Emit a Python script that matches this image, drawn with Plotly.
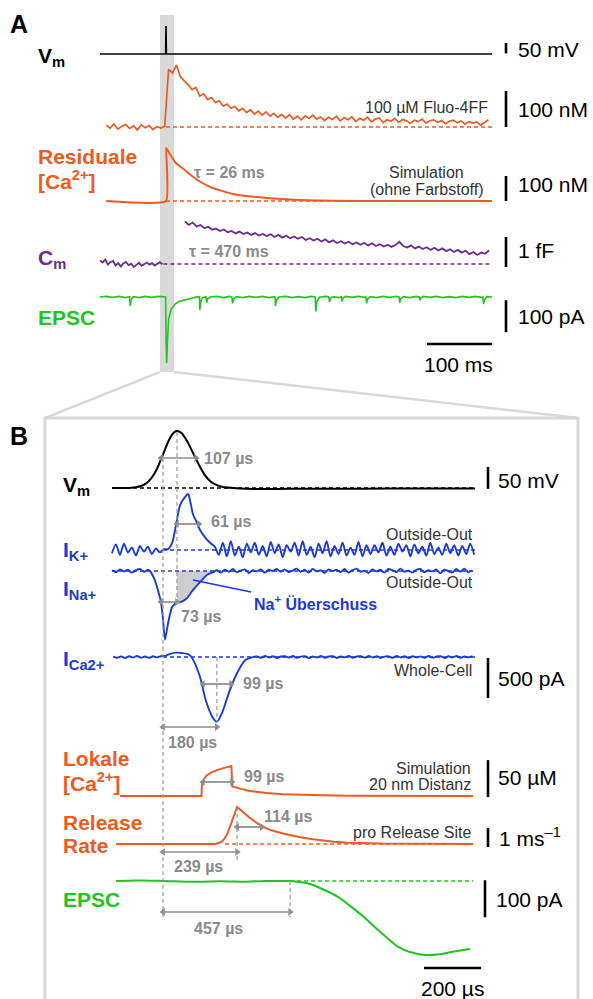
import numpy as np
import plotly.graph_objects as go

W, H = 593, 999

# ================= PANEL A  (time in ms, stimulus at t = 0) =================
VM_A = [(-101.5, 0), (-0.6, 0), (0, 140), (0.6, 0), (501.5, 0)]          # mV

FLUO_T0, FLUO_DT = -92, 6                                                # nM
FLUO = [5, -3, 8, -6, 2, 7, -4, 3, -8, 6, -2, 4, -7, 1, -3, 2,
        160, 150, 172, 140, 128, 118, 104, 110, 86, 92, 76, 82, 68, 73, 58, 64,
        52, 57, 45, 52, 40, 48, 36, 44, 33, 42, 30, 38, 27, 35, 25, 34, 22, 30,
        20, 31, 24, 33, 22, 28, 18, 27, 21, 30, 17, 26, 20, 28, 15, 24, 19, 27,
        14, 22, 25, 12, 20, 16, 24, 13, 21, 17, 10, 19, 15, 22, 11, 17, 20, 13,
        18, 9, 16, 19, 12, 17, 8, 15, 11, 14, 5, 12, 20]

RESID = [(-92, 0), (0, 0), (0.3, 212), (3, 200), (8, 180), (15, 152), (26, 130),
         (40, 100), (52, 78), (70, 54), (103, 28), (155, 12), (206, 4), (260, 1),
         (330, 0), (501.5, 0)]                                            # nM

CM_PRE_T0, CM_PRE_DT = -101.5, 4                                         # fF
CM_PRE = [0.12, 0.05, 0.15, -0.02, 0.06, 0.1, -0.05, 0.03, -0.08, 0.02, 0.07,
          -0.04, 0.01, -0.1, -0.03, 0.04, -0.06, 0.0, 0.05, -0.02, 0.03, -0.05,
          0.02, 0.06, -0.01]
CM_POST_T0, CM_POST_DT = 29, 6
CM_POST = [1.42, 1.30, 1.38, 1.25, 1.30, 1.20, 1.24, 1.14, 1.18, 1.10, 1.15, 1.06,
           1.10, 1.02, 1.08, 1.00, 1.05, 0.97, 1.03, 0.95, 1.00, 0.93, 0.99, 0.90,
           0.97, 0.88, 0.94, 0.86, 0.92, 0.84, 0.90, 0.80, 0.86, 0.78, 0.84, 0.75,
           0.82, 0.72, 0.79, 0.70, 0.76, 0.68, 0.74, 0.66, 0.72, 0.64, 0.70, 0.62,
           0.69, 0.60, 0.66, 0.58, 0.64, 0.57, 0.63, 0.74, 0.60, 0.55, 0.62, 0.52,
           0.58, 0.50, 0.56, 0.47, 0.54, 0.45, 0.52, 0.43, 0.49, 0.40, 0.47, 0.38,
           0.44, 0.33, 0.40, 0.30, 0.38, 0.34, 0.45]

EPSC_A = [(-102, 0), (-92, 2), (-82, -1), (-72, 2), (-62, -2), (-56, 1), (-55, -28),
          (-53.5, -8), (-50, 1), (-42, -2), (-32, 2), (-22, -1), (-12, 2), (-4, -1),
          (-0.6, 0), (0, -120), (1, -206), (2, -150), (4, -70), (8, -38), (14, -22),
          (20, -14), (30, -8), (40, -4), (49, 1), (51.5, 0), (52, -40), (53.5, -15),
          (56, -2), (61.5, 1), (62.5, -18), (64, -6), (68, 0), (78, 2), (88, -2),
          (98, 2), (101.5, 0), (102.5, -20), (104, -7), (108, 1), (118, -2), (128, 2),
          (138, -1), (148, 2), (158, -2), (167.5, 1), (168.5, -28), (170, -10),
          (174, 0), (184, 2), (194, -2), (204, 1), (214, -2), (224, 2), (229.5, 0),
          (230.5, -45), (232, -15), (236, -1), (246, 2), (250.5, 0), (251.5, -16),
          (253, -5), (257, 1), (266, -2), (269.5, 1), (270.5, -14), (272, -4),
          (276, 2), (286, -1), (296, 2), (306, -1), (307.5, 1), (308.5, -20),
          (310, -7), (314, 1), (324, -2), (334, 2), (344, -1), (354, 2), (358.5, 0),
          (359.5, -18), (361, -6), (365, 1), (375, -2), (385, 2), (389.5, 0),
          (390.5, -10), (392, -3), (396, 2), (406, -1), (416, 2), (426, -2), (436, 1),
          (446, -2), (456, 2), (466, -1), (476, 2), (486, -1), (487.5, 0),
          (488.5, -22), (490, -8), (494, 1), (501.5, 0)]                  # pA

# ================= PANEL B  (time in µs) =================
VM_B = [(-179, 0), (-150, 0), (-130, 0.2), (-110, 0.8), (-95, 2), (-80, 4), (-60, 10),
        (-40, 23), (-20, 45), (0, 76), (20, 108), (35, 124), (49, 130), (65, 125),
        (85, 106), (105, 80), (125, 54), (145, 31), (165, 16), (185, 7.5),
        (210, 2.4), (240, 0.3), (270, -1.2), (320, -2), (400, -2), (500, -1.8),
        (700, -1.5), (900, -1.2), (1095, -1)]                              # mV

IK_PRE_T0, IK_DT = -179, 14                                              # pA
IK_PRE = [-40, 70, -60, 80, -30, 30, -70, 50, -20, 40, -50, 20, -30, 10]
IK_MID = [(17, 10), (32, 90), (45, 300), (60, 560), (77, 660), (88, 700), (95, 620),
          (105, 450), (119, 340), (130, 250), (147, 160), (165, 90), (182, 40)]
IK_POST_T0 = 196
IK_POST = [-60, 90, -80, 110, -70, 40, -90, 80, -30, 90, -60, 50, -80, 100, -40, 70,
           -90, 60, -20, 90, -70, 110, -60, 40, -90, 80, -40, 110, -80, 50, -50, 90,
           -70, 30, -60, 100, -80, 60, -50, 60, -30, 90, -70, 40, -60, 80, -20, 60,
           -80, 70, -40, 40, -70, 90, -50, 30, -60, 80, -40, 60, -70, 50, -50, 80, -60]

INA_PRE_T0, INA_DT = -179, 14                                            # pA
INA_PRE = [10, -15, 20, -5, 15, -20, 10, 25, -10, 15]
INA_MID = [(-46, 0), (-28, -120), (-18, -240), (-7, -390), (0, -600), (7, -860),
           (18, -650), (32, -450), (49, -390), (60, -390), (84, -340), (105, -240),
           (130, -140), (154, -50), (175, -15)]
INA_POST_T0 = 189
INA_POST = [10, -20, 15, -10, 25, -15, 5, 20, -25, 10, -5, 20, -20, 15, 0, 25, -10,
            20, -15, 5, 30, -10, 15, -20, 25, -5, 10, -25, 20, 0, 15, -15, 25, -20,
            10, 30, -10, 5, -25, 20, -5, 15, -20, 25, 10, -15, 30, -10, 5, -20, 15,
            25, -15, 10, -5, 20, -30, 15, 0, -20, 25, -10, 30, -15, 10]
NA_EXCESS = (49, 175)                                                    # µs window

ICA_PRE_T0, ICA_DT = -175, 14                                            # pA
ICA_PRE = [5, -10, 8, -12, 10, -6, 12, -8, 6, -10, 9, -5, 10, 15]
ICA_MID = [(25, 40), (45, 55), (65, 50), (85, 40), (95, 20), (105, -30), (130, -250),
           (150, -540), (175, -760), (189, -810), (207, -700), (235, -410),
           (260, -200), (288, -40), (316, 0)]
ICA_POST_T0 = 330
ICA_POST = [8, -10, 12, -6, 10, -12, 6, 9, -8, 12, -10, 5, 10, -12, 8, -6, 12, -9, 6,
            10, -12, 8, -5, 12, -10, 6, 9, -8, 12, -6, 10, -12, 5, 8, -10, 12, -6, 9,
            -12, 10, -5, 8, -10, 12, -8, 6, 10, -12, 9, -6, 12, -10, 8, -5, 10]

LOKAL = [(-151, 0), (135, 0), (137, 19), (154, 28), (170, 32), (189, 35), (215, 38),
         (240, 40.5), (243, 13), (255, 11.5), (270, 10), (300, 7), (365, 4),
         (420, 2.5), (480, 1.5), (560, 1), (650, 0.5), (800, 0), (1088, 0)]   # µM

RELEASE = [(-165, 0), (150, 0), (182, 0), (200, 0.08), (211, 0.2), (225, 0.5),
           (235, 0.9), (246, 1.4), (260, 1.95), (280, 1.7), (305, 1.37), (330, 1.1),
           (351, 0.9), (380, 0.72), (421, 0.55), (481, 0.36), (526, 0.25),
           (600, 0.12), (646, 0.07), (761, 0.02), (900, 0), (1088, 0)]       # 1/ms

EPSC_B = [(-165, 0), (-120, 1), (-80, 1.5), (-40, 1), (0, 0), (40, -1), (80, -2),
          (120, -2), (160, -1.5), (200, -1), (240, -1.5), (280, -2), (320, -1),
          (360, 0), (400, 0), (446, 0), (516, -8), (551, -19), (614, -43),
          (674, -78), (709, -100), (747, -127), (825, -178), (867, -192),
          (919, -200), (970, -198), (1011, -192), (1077, -184)]              # pA

# interval arrows in panel B: (start µs, end µs, pixel row)
INTERVALS = [(-7, 116, 458), (49, 126, 524), (-7, 49, 602), (140, 239, 684),
             (0, 189, 727), (140, 242, 782), (260, 347, 827), (0, 260, 852),
             (0, 446, 912)]

# ================= layout geometry =================
XA = (166, 0.65)     # pixel of t=0, px per ms
XB = (163, 0.285)    # pixel of t=0, px per µs
YAX = {               # baseline pixel, px per unit
    'vmA': (54, 0.2), 'fluo': (127, 0.36), 'res': (201, 0.25), 'cm': (264, 30.0),
    'epscA': (297, 0.32), 'vmB': (488, 0.44), 'ik': (550, 0.08), 'ina': (571, 0.08),
    'ica': (657, 0.08), 'lok': (796, 0.74), 'rel': (844, 19.0), 'epscB': (881, 0.37),
    'ann': (H, float(H)),
}
names = list(YAX)
yid = {n: ('y' if i == 0 else f'y{i+1}') for i, n in enumerate(names)}

ORANGE = '#EE5A24'
PURPLE = '#6A2C8E'
GREEN = '#22C422'
BLUE = '#1C3BD4'
GTXT = '#8A8A8A'
DGRAY = '#9A9A9A'
FRAME = '#D8D8D8'
FONT = 'Liberation Sans, Arial, sans-serif'

def P(py):
    return 1 - py / H

def PX(px):
    return px / W

def tA(px):
    return (px - XA[0]) / XA[1]

def tB(px):
    return (px - XB[0]) / XB[1]

def grid(t0, dt, vals):
    return list(t0 + dt * np.arange(len(vals))), list(vals)

def pairs(pp):
    return [p[0] for p in pp], [p[1] for p in pp]

fig = go.Figure()

def add(xax, yname, t, v, color, width, dash=None, shape='linear', smooth=None):
    line = dict(color=color, width=width, shape=shape)
    if dash:
        line['dash'] = dash
    if smooth is not None:
        line['smoothing'] = smooth
    fig.add_trace(go.Scatter(x=t, y=v, mode='lines', line=line, xaxis=xax,
                             yaxis=yid[yname], hoverinfo='skip', showlegend=False))

DASH = '4px,3px'

# ---- Panel A traces ----
add('x', 'fluo', [0, 501.5], [0, 0], ORANGE, 1.3, DASH)
add('x', 'res', [0, 501.5], [0, 0], ORANGE, 1.3, DASH)
add('x', 'cm', [-4, 501.5], [0, 0], PURPLE, 1.3, DASH)
add('x', 'vmA', *pairs(VM_A), 'black', 1.6)
add('x', 'fluo', *grid(FLUO_T0, FLUO_DT, FLUO), ORANGE, 1.7)
add('x', 'res', *pairs(RESID), ORANGE, 2.0, shape='spline', smooth=0.4)
add('x', 'cm', *grid(CM_PRE_T0, CM_PRE_DT, CM_PRE), PURPLE, 1.8)
add('x', 'cm', *grid(CM_POST_T0, CM_POST_DT, CM_POST), PURPLE, 1.8)
add('x', 'epscA', *pairs(EPSC_A), GREEN, 1.6)

# ---- Panel B traces ----
xb0, xb1 = tB(112), tB(475)
add('x2', 'vmB', [xb0, xb1], [0, 0], 'black', 1.3, DASH)
add('x2', 'ik', [0, xb1], [0, 0], BLUE, 1.3, DASH)
add('x2', 'ica', [0, xb1], [0, 0], BLUE, 1.3, DASH)
add('x2', 'rel', [218, 1088], [0, 0], ORANGE, 1.3, DASH)
add('x2', 'epscB', [446, 1088], [0, 0], GREEN, 1.3, DASH)

add('x2', 'vmB', *pairs(VM_B), 'black', 2.0, shape='spline', smooth=0.5)

ik_t = grid(IK_PRE_T0, IK_DT, IK_PRE)[0] + pairs(IK_MID)[0] + grid(IK_POST_T0, IK_DT, IK_POST)[0]
ik_v = IK_PRE + pairs(IK_MID)[1] + IK_POST
add('x2', 'ik', ik_t, ik_v, BLUE, 1.9, shape='spline', smooth=0.8)

ina_t = grid(INA_PRE_T0, INA_DT, INA_PRE)[0] + pairs(INA_MID)[0] + grid(INA_POST_T0, INA_DT, INA_POST)[0]
ina_v = INA_PRE + pairs(INA_MID)[1] + INA_POST
# Na+ excess shading (area between trace and baseline in the window)
sel = [(t, v) for t, v in zip(ina_t, ina_v) if NA_EXCESS[0] <= t <= NA_EXCESS[1]]
ft = [s[0] for s in sel] + [NA_EXCESS[1], NA_EXCESS[0]]
fv = [s[1] for s in sel] + [0, 0]
fig.add_trace(go.Scatter(x=ft, y=fv, mode='lines', fill='toself', fillcolor='#CDCDCD',
                         line=dict(width=0), xaxis='x2', yaxis=yid['ina'],
                         hoverinfo='skip', showlegend=False))
add('x2', 'ina', [xb0, xb1], [0, 0], BLUE, 1.3, DASH)
add('x2', 'ina', ina_t, ina_v, BLUE, 1.9, shape='spline', smooth=0.6)

ica_t = grid(ICA_PRE_T0, ICA_DT, ICA_PRE)[0] + pairs(ICA_MID)[0] + grid(ICA_POST_T0, ICA_DT, ICA_POST)[0]
ica_v = ICA_PRE + pairs(ICA_MID)[1] + ICA_POST
add('x2', 'ica', ica_t, ica_v, BLUE, 1.9, shape='spline', smooth=0.8)

add('x2', 'lok', *pairs(LOKAL), ORANGE, 2.0)
add('x2', 'rel', *pairs(RELEASE), ORANGE, 2.0)
add('x2', 'epscB', *pairs(EPSC_B), GREEN, 2.0, shape='spline', smooth=0.6)

# interval arrows (double-headed)
for t0, t1, py in INTERVALS:
    fig.add_trace(go.Scatter(x=[t0, t1], y=[P(py), P(py)], mode='lines+markers',
                             line=dict(color='#8C8C8C', width=1.7),
                             marker=dict(symbol=['triangle-left', 'triangle-right'], size=7,
                                         color='#8C8C8C', line=dict(width=0)),
                             xaxis='x2', yaxis=yid['ann'], hoverinfo='skip', showlegend=False))

# ================= axes =================
lay = dict(width=W, height=H, margin=dict(l=0, r=0, t=0, b=0, pad=0),
           paper_bgcolor='white', plot_bgcolor='rgba(0,0,0,0)', showlegend=False,
           font=dict(family=FONT))
ax_common = dict(visible=False, showgrid=False, zeroline=False, fixedrange=True)
lay['xaxis'] = dict(ax_common, domain=[0, 1], range=[tA(0), tA(W)])
lay['xaxis2'] = dict(ax_common, domain=[0, 1], range=[tB(0), tB(W)], overlaying='x')
for i, n in enumerate(names):
    yb, k = YAX[n]
    d = dict(ax_common, domain=[0, 1], range=[(yb - H) / k, yb / k])
    if i > 0:
        d['overlaying'] = 'y'
    lay['yaxis' if i == 0 else f'yaxis{i+1}'] = d
fig.update_layout(**lay)

# ================= shapes =================
shapes = []
shapes.append(dict(type='rect', xref='x', yref='paper', x0=tA(160), x1=tA(174),
                   y0=P(372), y1=P(15), fillcolor='#D9D9D9', line=dict(width=0), layer='below'))
for a, b in [((160, 372), (45, 418)), ((174, 372), (578, 418))]:
    shapes.append(dict(type='line', xref='paper', yref='paper', x0=PX(a[0]), y0=P(a[1]),
                       x1=PX(b[0]), y1=P(b[1]), line=dict(color=FRAME, width=2.5)))
shapes.append(dict(type='rect', xref='paper', yref='paper', x0=PX(45), x1=PX(578),
                   y0=P(1010), y1=P(418), line=dict(color=FRAME, width=3), layer='below'))

def vbar(xref, x, yname, v0, v1, w=2.6):
    shapes.append(dict(type='line', xref=xref, yref=yid[yname], x0=x, x1=x, y0=v0, y1=v1,
                       line=dict(color='black', width=w)))

xa_bar = tA(506)
vbar('x', xa_bar, 'vmA', 3, 55)
vbar('x', xa_bar, 'fluo', 0, 100)
vbar('x', xa_bar, 'res', 0, 100)
vbar('x', xa_bar, 'cm', -0.1, 0.9)
vbar('x', xa_bar, 'epscA', -10, -110)
shapes.append(dict(type='line', xref='x', yref='paper', x0=401.5, x1=501.5, y0=P(344), y1=P(344),
                   line=dict(color='black', width=2.6)))
xb_bar = tB(488)
vbar('x2', xb_bar, 'vmB', -2, 48)
vbar('x2', xb_bar, 'ica', -12, -512)
vbar('x2', xb_bar, 'lok', -1.5, 48.5)
vbar('x2', xb_bar, 'rel', -0.16, 0.84)
vbar('x2', tB(485), 'epscB', 2, -98)
shapes.append(dict(type='line', xref='x2', yref='paper', x0=916, x1=1116, y0=P(968), y1=P(968),
                   line=dict(color='black', width=2.6)))

for t, y0, y1 in [(0, 458, 917), (49, 432, 605), (189, 657, 723), (260, 807, 862), (446, 881, 917)]:
    shapes.append(dict(type='line', xref='x2', yref='paper', x0=t, x1=t, y0=P(y0), y1=P(y1),
                       line=dict(color=DGRAY, width=1.2, dash=DASH)))
shapes.append(dict(type='line', xref='paper', yref='paper', x0=PX(193), y0=P(580),
                   x1=PX(251), y1=P(592), line=dict(color=BLUE, width=1.6)))
fig.update_layout(shapes=shapes)

# ================= annotations =================
ann = []

def txt(px, py, text, size, color='black', anchor='left', bold=False):
    if bold:
        text = f'<b>{text}</b>'
    ann.append(dict(x=PX(px), y=P(py), xref='paper', yref='paper', text=text, showarrow=False,
                    xanchor=anchor, yanchor='middle', font=dict(size=size, color=color, family=FONT)))

BIG = 21
SML = 16
txt(8, 24, 'A', 25, bold=True)
txt(36, 57, 'V<sub>m</sub>', BIG, bold=True)
txt(36, 156, 'Residuale', BIG, ORANGE, bold=True)
txt(36, 180, '[Ca<sup>2+</sup>]', BIG, ORANGE, bold=True)
txt(36, 259, 'C<sub>m</sub>', BIG, PURPLE, bold=True)
txt(36, 318, 'EPSC', BIG, GREEN, bold=True)
txt(490, 107, '100 µM Fluo-4FF', SML, '#333333', anchor='right')
txt(426, 173, 'Simulation', SML, '#333333', anchor='center')
txt(427, 189, '(ohne Farbstoff)', SML, '#333333', anchor='center')
txt(192, 173, 'τ = 26 ms', SML, GTXT, bold=True)
txt(187, 252, 'τ = 470 ms', SML, GTXT, bold=True)
txt(516, 49, '50 mV', BIG)
txt(516, 110, '100 nM', BIG)
txt(516, 185, '100 nM', BIG)
txt(516, 250, '1 fF', BIG)
txt(516, 316, '100 pA', BIG)
txt(458, 364, '100 ms', BIG, anchor='center')

txt(8, 436, 'B', 25, bold=True)
txt(61, 486, 'V<sub>m</sub>', BIG, bold=True)
txt(61, 551, 'I<sub>K+</sub>', BIG, BLUE, bold=True)
txt(61, 590, 'I<sub>Na+</sub>', BIG, BLUE, bold=True)
txt(61, 660, 'I<sub>Ca2+</sub>', BIG, BLUE, bold=True)
txt(61, 758, 'Lokale', BIG, ORANGE, bold=True)
txt(61, 782, '[Ca<sup>2+</sup>]', BIG, ORANGE, bold=True)
txt(61, 822, 'Release', BIG, ORANGE, bold=True)
txt(61, 845, 'Rate', BIG, ORANGE, bold=True)
txt(61, 899, 'EPSC', BIG, GREEN, bold=True)

txt(202, 459, '107 µs', SML, GTXT, bold=True)
txt(209, 521, '61 µs', SML, GTXT, bold=True)
txt(179, 616, '73 µs', SML, GTXT, bold=True)
txt(241, 683, '99 µs', SML, GTXT, bold=True)
txt(192, 742, '180 µs', SML, GTXT, anchor='center', bold=True)
txt(242, 776, '99 µs', SML, GTXT, bold=True)
txt(262, 816, '114 µs', SML, GTXT, bold=True)
txt(198, 866, '239 µs', SML, GTXT, anchor='center', bold=True)
txt(218, 928, '457 µs', SML, GTXT, anchor='center', bold=True)
txt(252, 603, 'Na<sup>+</sup> Überschuss', SML, BLUE, bold=True)

txt(475, 534, 'Outside-Out', SML, '#333333', anchor='right')
txt(475, 582, 'Outside-Out', SML, '#333333', anchor='right')
txt(474, 670, 'Whole-Cell', SML, '#333333', anchor='right')
txt(473, 768, 'Simulation', SML, '#333333', anchor='right')
txt(473, 784, '20 nm Distanz', SML, '#333333', anchor='right')
txt(473, 832, 'pro Release Site', SML, '#333333', anchor='right')

txt(496, 480, '50 mV', BIG)
txt(496, 678, '500 pA', BIG)
txt(496, 777, '50 µM', BIG)
txt(497, 837, '1 ms<sup>–1</sup>', BIG)
txt(494, 899, '100 pA', BIG)
txt(452, 988, '200 µs', BIG, anchor='center')

fig.update_layout(annotations=ann)
fig.write_html("out.html", config={'displayModeBar': False, 'staticPlot': True})
